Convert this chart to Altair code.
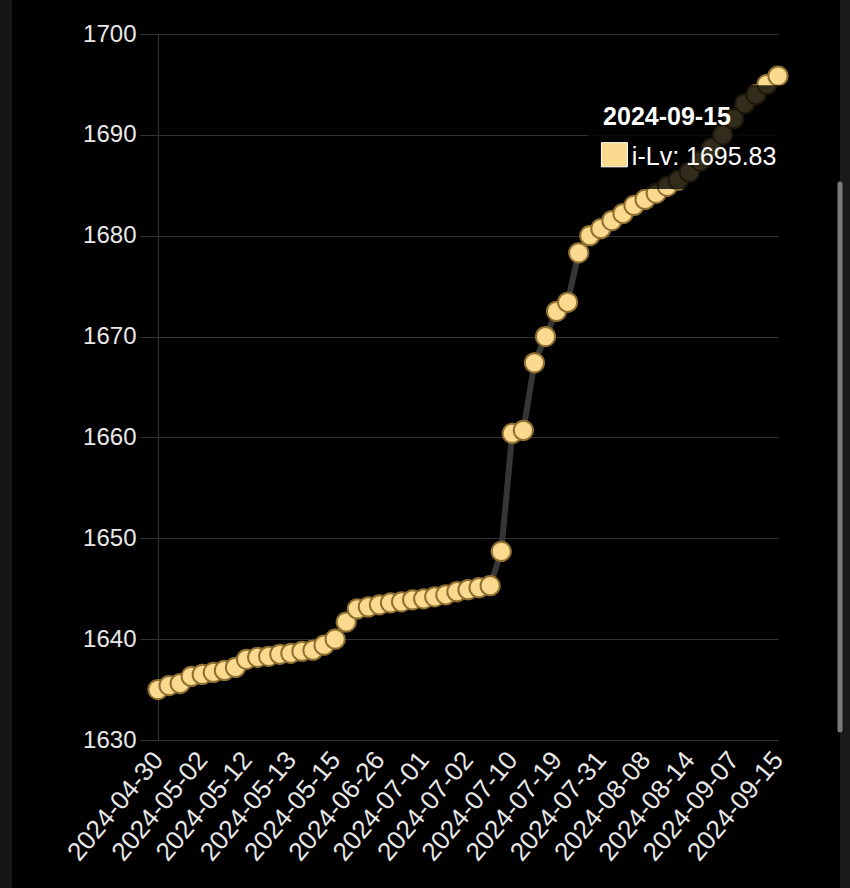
import altair as alt
import pandas as pd

# ---- data ----
tick_labels = [
    "2024-04-30", "2024-05-02", "2024-05-12", "2024-05-13", "2024-05-15",
    "2024-06-26", "2024-07-01", "2024-07-02", "2024-07-10", "2024-07-19",
    "2024-07-31", "2024-08-08", "2024-08-14", "2024-09-07", "2024-09-15",
]
label_step = 4
values = [
    1635.0, 1635.4, 1635.6, 1636.3, 1636.5, 1636.7, 1636.9, 1637.2,
    1638.0, 1638.2, 1638.3, 1638.5, 1638.6, 1638.8, 1638.9, 1639.4,
    1640.0, 1641.7, 1643.0, 1643.2, 1643.4, 1643.6, 1643.7, 1643.9,
    1644.0, 1644.2, 1644.4, 1644.7, 1644.9, 1645.1, 1645.3, 1648.7,
    1660.4, 1660.7, 1667.4, 1670.0, 1672.5, 1673.4, 1678.3, 1680.0,
    1680.7, 1681.5, 1682.2, 1683.0, 1683.6, 1684.2, 1684.9, 1685.5,
    1686.3, 1687.4, 1688.7, 1690.0, 1691.6, 1693.1, 1694.0, 1695.0,
    1695.83,
]
series_name = "i-Lv"
y_ticks = [1630, 1640, 1650, 1660, 1670, 1680, 1690, 1700]

df = pd.DataFrame({"idx": list(range(len(values))), "v": values})
n_last = len(values) - 1

FONT = "Liberation Sans"
GOLD = "#F9DA8E"
GRID = "#333333"

label_expr = "[" + ",".join("'%s'" % s for s in tick_labels) + "][round(datum.value/%d)]" % label_step

x_enc = alt.X(
    "idx:Q",
    scale=alt.Scale(domain=[0, n_last], nice=False, zero=False),
    axis=alt.Axis(
        values=list(range(0, len(values), label_step)),
        labelExpr=label_expr,
        labelAngle=310,
        labelAlign="right",
        labelBaseline="middle",
        labelFontSize=26,
        labelFont=FONT,
        labelColor="#e8e8e8",
        labelPadding=15,
        labelOverlap=False,
        labelBound=False,
        ticks=False,
        domain=False,
        grid=False,
        title=None,
    ),
)
y_enc = alt.Y(
    "v:Q",
    scale=alt.Scale(domain=[1630, 1700], nice=False, zero=False),
    axis=alt.Axis(
        values=y_ticks,
        format="d",
        labelFontSize=24,
        labelFont=FONT,
        labelColor="#e8e8e8",
        labelPadding=4,
        tickSize=18,
        tickColor=GRID,
        gridColor=GRID,
        gridWidth=1.2,
        domainColor=GRID,
        domainWidth=1.2,
        title=None,
    ),
)

base = alt.Chart(df)
line = base.mark_line(color="#363636", strokeWidth=6).encode(x=x_enc, y=y_enc)
points = base.mark_point(
    filled=True, size=370, fill=GOLD, stroke="#8f7030", strokeWidth=2, opacity=1, clip=False
).encode(x="idx:Q", y="v:Q")

# ---- tooltip overlay anchored to the last point ----
tx = n_last
tv = values[-1]
tip_box = pd.DataFrame({"x": [tx - 17.2], "x2": [tx + 1.25], "y": [tv - 11.2], "y2": [tv - 0.9]})
tip_title = pd.DataFrame({"x": [tx - 15.8], "y": [tv - 4.85], "t": [tick_labels[-1]]})
tip_sw = pd.DataFrame({"x": [tx - 15.95], "x2": [tx - 13.6], "y": [tv - 9.0], "y2": [tv - 6.6]})
tip_val = pd.DataFrame({"x": [tx - 13.2], "y": [tv - 8.85], "t": ["%s: %.2f" % (series_name, tv)]})

box = alt.Chart(tip_box).mark_rect(color="#000000", opacity=0.8, clip=False).encode(
    x="x:Q", x2="x2:Q", y="y:Q", y2="y2:Q"
)
title_t = alt.Chart(tip_title).mark_text(
    align="left", baseline="alphabetic", font=FONT, fontSize=25, fontWeight="bold", color="#ffffff", clip=False
).encode(x="x:Q", y="y:Q", text="t:N")
swatch = alt.Chart(tip_sw).mark_rect(color=GOLD, stroke="#ffffff", strokeWidth=1, clip=False).encode(
    x="x:Q", x2="x2:Q", y="y:Q", y2="y2:Q"
)
val_t = alt.Chart(tip_val).mark_text(
    align="left", baseline="alphabetic", font=FONT, fontSize=25, color="#ffffff", clip=False
).encode(x="x:Q", y="y:Q", text="t:N")

# ---- page chrome: side strips and scrollbar ----
left_strip = alt.Chart(df).mark_rect(color="#161616", clip=False).encode(
    x=alt.value(-158), x2=alt.value(-146), y=alt.value(-34), y2=alt.value(854)
).transform_filter("datum.idx == 0")
right_strip = alt.Chart(df).mark_rect(color="#1a1a1a", clip=False).encode(
    x=alt.value(682), x2=alt.value(692), y=alt.value(-34), y2=alt.value(854)
).transform_filter("datum.idx == 0")
scroll = alt.Chart(df).mark_rule(color="#7a7a7a", strokeWidth=5, strokeCap="round", clip=False).encode(
    x=alt.value(682), y=alt.value(150), y2=alt.value(696)
).transform_filter("datum.idx == 0")

chart = alt.layer(
    line, points, box, title_t, swatch, val_t, left_strip, right_strip, scroll
).properties(
    width=620,
    height=706,
    background="#000000",
    autosize=alt.AutoSizeParams(type="none"),
    padding={"left": 158, "top": 34, "right": 72, "bottom": 148},
).configure_view(stroke=None)

chart.save("out.html", embed_options={"renderer": "svg", "actions": False})
